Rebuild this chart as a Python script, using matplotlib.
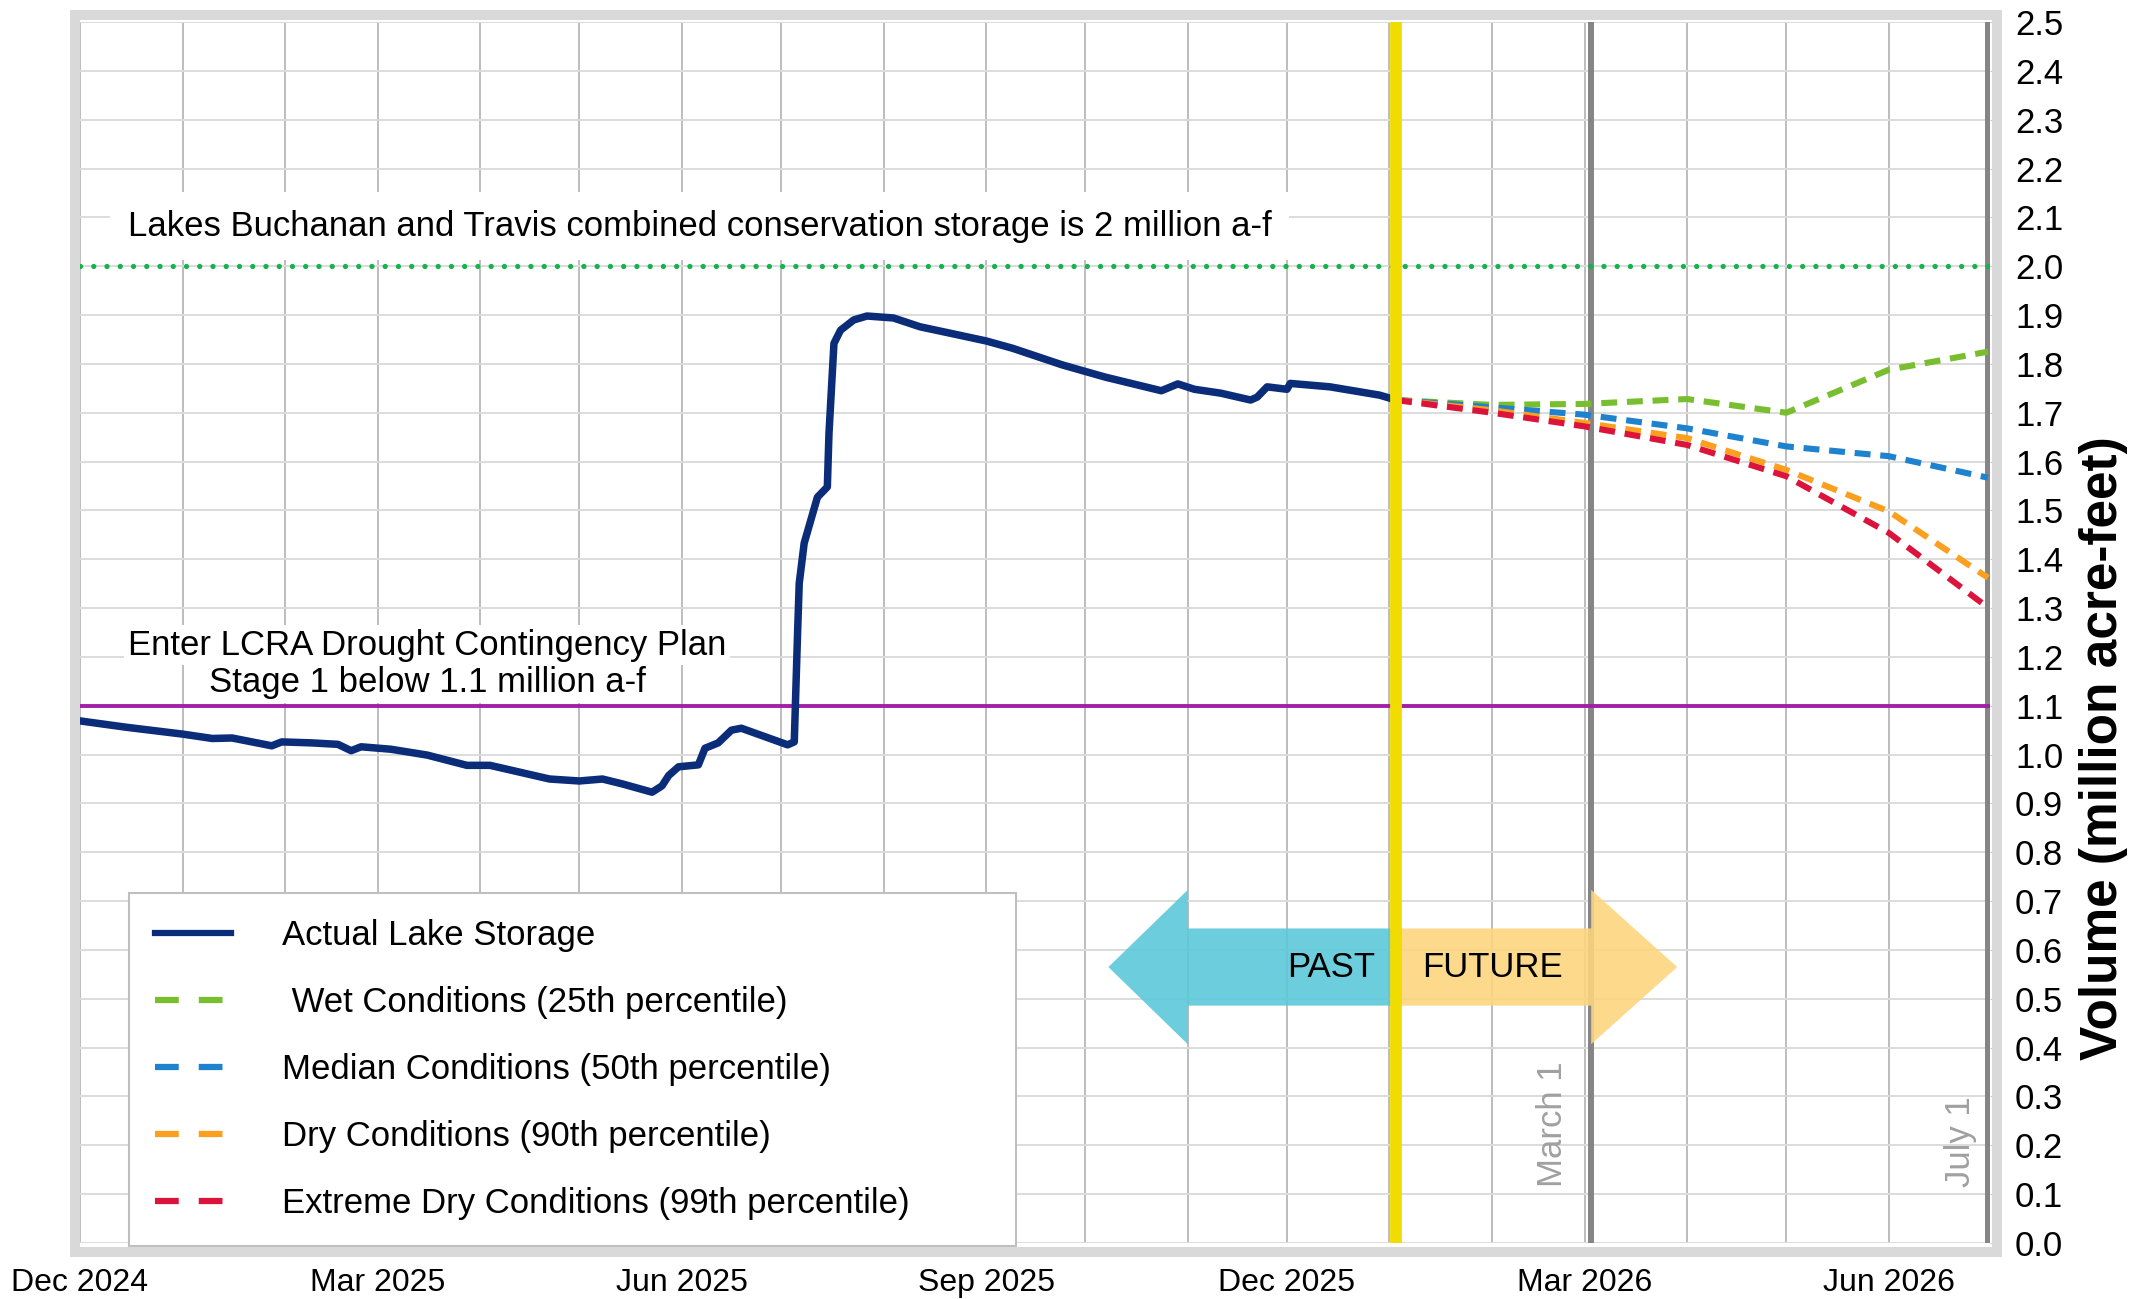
import datetime as dt
import matplotlib
matplotlib.use("Agg")
import matplotlib.pyplot as plt
import matplotlib.dates as mdates
from matplotlib.lines import Line2D
from matplotlib.patches import Polygon, Rectangle
from matplotlib.ticker import MultipleLocator, FormatStrFormatter

plt.rcParams['font.family'] = ['Liberation Sans', 'DejaVu Sans']

# combined storage of Lakes Buchanan and Travis, million acre-feet
actual_dates = ["2024-12-01", "2024-12-15", "2025-01-01", "2025-01-10", "2025-01-16",
                "2025-01-28", "2025-01-31", "2025-02-09", "2025-02-17", "2025-02-21",
                "2025-02-24", "2025-03-05", "2025-03-16", "2025-03-28", "2025-04-04",
                "2025-04-22", "2025-05-01", "2025-05-08", "2025-05-14", "2025-05-23",
                "2025-05-26", "2025-05-28", "2025-05-31", "2025-06-06", "2025-06-08",
                "2025-06-12", "2025-06-16", "2025-06-19", "2025-07-03", "2025-07-05",
                "2025-07-06", "2025-07-06 12:00", "2025-07-08", "2025-07-12", "2025-07-15",
                "2025-07-15 12:00", "2025-07-17", "2025-07-19", "2025-07-23", "2025-07-27",
                "2025-08-04", "2025-08-12", "2025-08-21", "2025-09-01", "2025-09-09",
                "2025-09-24", "2025-10-07", "2025-10-24", "2025-10-29", "2025-11-03",
                "2025-11-11", "2025-11-20", "2025-11-22", "2025-11-25", "2025-12-01",
                "2025-12-02", "2025-12-14", "2025-12-29", "2026-01-03"]
actual_vals = [1.069, 1.056, 1.042, 1.033, 1.034,
               1.018, 1.026, 1.024, 1.021, 1.008,
               1.016, 1.011, 0.999, 0.978, 0.978,
               0.950, 0.946, 0.950, 0.940, 0.923,
               0.936, 0.957, 0.975, 0.979, 1.013,
               1.024, 1.050, 1.054, 1.020, 1.026,
               1.249, 1.351, 1.433, 1.527, 1.548,
               1.658, 1.842, 1.869, 1.890, 1.898,
               1.894, 1.876, 1.863, 1.847, 1.832,
               1.798, 1.773, 1.745, 1.759, 1.748,
               1.740, 1.726, 1.732, 1.753, 1.748,
               1.760, 1.753, 1.736, 1.726]

# projections
fc_dates = ["2026-01-03", "2026-02-01", "2026-03-01", "2026-04-01",
            "2026-05-01", "2026-06-01", "2026-07-01"]
wet = [1.726, 1.716, 1.718, 1.728, 1.700, 1.788, 1.825]
median = [1.726, 1.711, 1.696, 1.668, 1.631, 1.611, 1.567]
dry = [1.726, 1.705, 1.679, 1.648, 1.583, 1.498, 1.362]
extreme = [1.726, 1.700, 1.672, 1.634, 1.570, 1.454, 1.301]

conservation = 2.0
stage1 = 1.1
today = "2026-01-03"
march1 = "2026-03-03"
july1 = "2026-07-01"

labels = ["Actual Lake Storage", " Wet Conditions (25th percentile)",
          "Median Conditions (50th percentile)", "Dry Conditions (90th percentile)",
          "Extreme Dry Conditions (99th percentile)"]

def d(s):
    return mdates.date2num(dt.datetime.fromisoformat(s))

W, H = 2151, 1299
fig = plt.figure(figsize=(W / 100, H / 100), dpi=100)
ax = fig.add_axes([80 / W, 1 - 1243 / H, 1910 / W, 1221 / H])

navy = '#0b2c78'
c_wet, c_med, c_dry, c_ext = '#78be2f', '#1f82cf', '#fb9f1e', '#dc143c'

x_act = [d(s) for s in actual_dates]
x_fc = [d(s) for s in fc_dates]

ax.plot(x_act, actual_vals, color=navy, lw=5.4, solid_joinstyle='round', zorder=6)
dash = (2.6, 1.6)
ax.plot(x_fc, wet, color=c_wet, lw=4.4, dashes=dash, zorder=5)
ax.plot(x_fc, median, color=c_med, lw=4.4, dashes=dash, zorder=5)
ax.plot(x_fc, dry, color=c_dry, lw=4.4, dashes=dash, zorder=5)
ax.plot(x_fc, extreme, color=c_ext, lw=4.4, dashes=dash, zorder=5)

ax.axhline(conservation, color='#14b34c', lw=3.8, linestyle=(0, (0.01, 2.5)),
           dash_capstyle='round', zorder=4)
ax.axhline(stage1, color='#a21fa8', lw=2.8, zorder=4)

# past / future arrows
t0 = d(today)
past = [(d("2025-10-08"), 0.565), (d("2025-11-01"), 0.723), (d("2025-11-01"), 0.644),
        (t0, 0.644), (t0, 0.486), (d("2025-11-01"), 0.486), (d("2025-11-01"), 0.407)]
future = [(t0, 0.644), (d("2026-03-03"), 0.644), (d("2026-03-03"), 0.723),
          (d("2026-03-29"), 0.565), (d("2026-03-03"), 0.407), (d("2026-03-03"), 0.486),
          (t0, 0.486)]
ax.add_patch(Polygon(past, closed=True, fc='#5cc8da', ec='none', alpha=0.9, zorder=3))
ax.add_patch(Polygon(future, closed=True, fc='#fdd67e', ec='none', alpha=0.9, zorder=3))
ax.annotate("PAST", xy=(t0, 0.565), xytext=(-15, 0), textcoords='offset points',
            ha='right', va='center', fontsize=25, zorder=7)
ax.annotate("FUTURE", xy=(t0, 0.565), xytext=(19, 0), textcoords='offset points',
            ha='left', va='center', fontsize=25, zorder=7)

ax.axvline(d(march1), color='#858585', lw=4.3, zorder=2)
ax.axvline(d(july1), color='#858585', lw=4.3, zorder=2)
ax.axvline(t0, color='#f0dc00', lw=8.5, zorder=7)

ax.annotate("March 1", xy=(d(march1), 0.115), xytext=(-16, 0), textcoords='offset points',
            rotation=90, ha='right', va='bottom', fontsize=25, color='#a0a0a0')
ax.annotate("July 1", xy=(d(july1), 0.115), xytext=(-8, 0), textcoords='offset points',
            rotation=90, ha='right', va='bottom', fontsize=25, color='#a0a0a0')

tr = ax.get_yaxis_transform()
ax.text(0.025, 2.082, "Lakes Buchanan and Travis combined conservation storage is 2 million a-f",
        transform=tr, ha='left', va='center', fontsize=25, zorder=3,
        bbox=dict(boxstyle='square,pad=0.5', fc='white', ec='none'))
ax.text(0.1817, 1.224, "Enter LCRA Drought Contingency Plan", transform=tr,
        ha='center', va='center', fontsize=25, zorder=3,
        bbox=dict(boxstyle='square,pad=0.1', fc='white', ec='none'))
ax.text(0.1817, 1.147, "Stage 1 below 1.1 million a-f", transform=tr,
        ha='center', va='center', fontsize=25, zorder=3,
        bbox=dict(boxstyle='square,pad=0.1', fc='white', ec='none'))

ax.set_xlim(d("2024-12-01"), d("2026-07-01") + 0.6)
ax.set_ylim(0, 2.5)
ax.xaxis.set_major_locator(mdates.MonthLocator(bymonth=[3, 6, 9, 12]))
ax.xaxis.set_minor_locator(mdates.MonthLocator())
ax.xaxis.set_major_formatter(mdates.DateFormatter('%b %Y'))
ax.yaxis.set_major_locator(MultipleLocator(0.1))
ax.yaxis.set_major_formatter(FormatStrFormatter('%.1f'))
ax.yaxis.tick_right()
ax.grid(axis='x', which='both', color='#bdbdbd', lw=1.4, zorder=0)
ax.grid(axis='y', which='major', color='#dcdcdc', lw=1.4, zorder=0)
ax.set_axisbelow(True)
ax.tick_params(axis='x', which='both', length=0, labelsize=23, pad=18)
ax.tick_params(axis='y', length=5, color='#c8c8c8', labelsize=25, pad=13)
for s in ax.spines.values():
    s.set_visible(False)

fig.add_artist(Rectangle((75 / W, 1 - 1252 / H), 1922 / W, 1237 / H,
                         transform=fig.transFigure, fill=False, ec='#d9d9d9', lw=7.2,
                         zorder=3))

fig.text(2103 / W, 1 - 748 / H, "Volume (million acre-feet)", rotation=90,
         ha='center', va='center', fontsize=37, fontweight='bold')

handles = [Line2D([], [], color=navy, lw=4.5),
           Line2D([], [], color=c_wet, lw=4.5, dashes=(3.8, 3.2)),
           Line2D([], [], color=c_med, lw=4.5, dashes=(3.8, 3.2)),
           Line2D([], [], color=c_dry, lw=4.5, dashes=(3.8, 3.2)),
           Line2D([], [], color=c_ext, lw=4.5, dashes=(3.8, 3.2))]
leg = ax.legend(handles, labels, loc='upper left', mode='expand',
                bbox_to_anchor=(129 / W, 1 - 893 / H, 887 / W, 0),
                bbox_transform=fig.transFigure, borderaxespad=0, fontsize=25,
                handlelength=2.2, handletextpad=1.45, labelspacing=0.98,
                borderpad=0.75, fancybox=False, framealpha=1, edgecolor='#bfbfbf')
leg.get_frame().set_linewidth(1.5)
leg.set_zorder(8)

fig.savefig("out.png", dpi=100)
